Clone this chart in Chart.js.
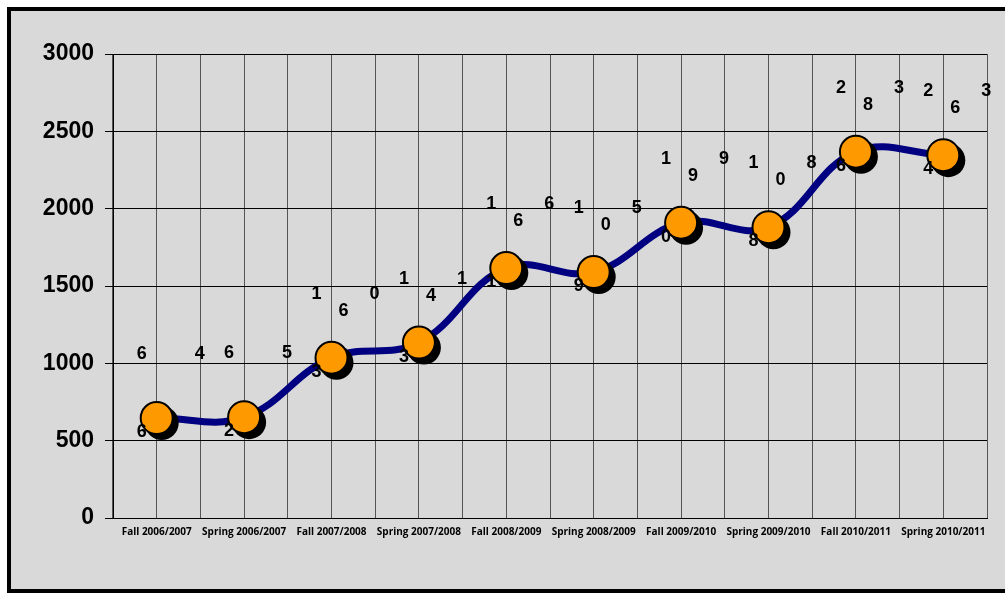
<!DOCTYPE html>
<html>
<head>
<meta charset="utf-8">
<script src="https://cdn.jsdelivr.net/npm/chart.js@4"></script>
<style>
  html, body { margin: 0; padding: 0; background: #fff; overflow: hidden; }
  #frame {
    position: absolute; left: 7px; top: 7px;
    width: 1020px; height: 578px;
    border: 4px solid #000; background: #d9d9d9;
  }
  #wrap { position: absolute; left: 0; top: 0; width: 1005px; height: 593px; }
</style>
</head>
<body>
<div id="frame"></div>
<div id="wrap"><canvas id="enrollChart" width="1005" height="593"></canvas></div>
<script>
// Semesters on the x axis
const terms = ['Fall 2006/2007', 'Spring 2006/2007', 'Fall 2007/2008', 'Spring 2007/2008', 'Fall 2008/2009',
               'Spring 2008/2009', 'Fall 2009/2010', 'Spring 2009/2010', 'Fall 2010/2011', 'Spring 2010/2011'];
// Headcount per semester
const headcount = [646, 652, 1036, 1134, 1616, 1590, 1909, 1880, 2368, 2346];
const yTicks = [0, 500, 1000, 1500, 2000, 2500, 3000];

// The value labels in the original are broken up: digits scatter around each point
const digitOffsets = [[-15, -64], [43, -64], [-15, 14], [12, -47]];

// hard black drop shadow under each marker, drawn before the markers
const shadowPlugin = {
    id: 'pointShadow',
    beforeDatasetDraw(chart, args) {
        if (args.index !== 0) return;
        const ctx = chart.ctx;
        ctx.save();
        ctx.fillStyle = '#000';
        args.meta.data.forEach(function(pt) {
            ctx.beginPath();
            ctx.arc(pt.x + 5, pt.y + 5, 17, 0, Math.PI * 2);
            ctx.fill();
        });
        ctx.restore();
    }
};

const scatteredLabels = {
    id: 'scatteredLabels',
    afterDatasetsDraw(chart) {
        const ctx = chart.ctx;
        const meta = chart.getDatasetMeta(0);
        ctx.save();
        ctx.font = 'bold 18px "Liberation Sans", Arial, sans-serif';
        ctx.fillStyle = '#000';
        ctx.textAlign = 'center';
        ctx.textBaseline = 'middle';
        meta.data.forEach(function(pt, i) {
            const digits = String(headcount[i]).split('');
            digits.forEach(function(d, k) {
                const off = digitOffsets[k];
                ctx.fillText(d, pt.x + off[0], pt.y + off[1]);
            });
        });
        ctx.restore();
    }
};

const ctx = document.getElementById('enrollChart').getContext('2d');
new Chart(ctx, {
    type: 'line',
    data: {
        labels: terms,
        datasets: [{
            // orange markers
            data: headcount,
            showLine: false,
            pointRadius: 16,
            pointHoverRadius: 16,
            pointBackgroundColor: '#ff9900',
            pointBorderColor: '#000',
            pointBorderWidth: 2,
            order: 0
        }, {
            // smooth navy line
            data: headcount,
            borderColor: '#000080',
            borderWidth: 7,
            pointRadius: 0,
            fill: false,
            tension: 0.4,
            order: 1
        }]
    },
    options: {
        responsive: false,
        animation: false,
        layout: { padding: { left: 0, top: 54, right: 9, bottom: 0 } },
        plugins: {
            legend: { display: false },
            tooltip: { enabled: false }
        },
        scales: {
            x: {
                offset: true,
                grid: { offset: true, color: '#555', drawTicks: false },
                border: { color: '#000' },
                ticks: {
                    color: '#000',
                    font: { family: '"Open Sans", sans-serif', size: 10, weight: 'bold' },
                    maxRotation: 0,
                    autoSkip: false,
                    padding: 8
                },
                afterFit: function(scale) { scale.height = 75; }
            },
            x2: {
                type: 'category',
                labels: terms,
                position: 'top',
                offset: true,
                grid: { offset: false, color: '#555', drawTicks: false },
                border: { display: false },
                ticks: { display: false },
                afterFit: function(scale) { scale.height = 0; }
            },
            y: {
                min: 0,
                max: 3000,
                afterBuildTicks: function(scale) {
                    scale.ticks = yTicks.map(function(v) { return { value: v }; });
                },
                grid: { color: '#000', tickLength: 8 },
                border: { color: '#000' },
                ticks: {
                    color: '#000',
                    font: { family: '"Liberation Sans", Arial, sans-serif', size: 23, weight: 'bold' },
                    padding: 11,
                    callback: function(value) { return String(value); }
                },
                afterFit: function(scale) { scale.width = 113; }
            }
        }
    },
    plugins: [shadowPlugin, scatteredLabels]
});
</script>
</body>
</html>
